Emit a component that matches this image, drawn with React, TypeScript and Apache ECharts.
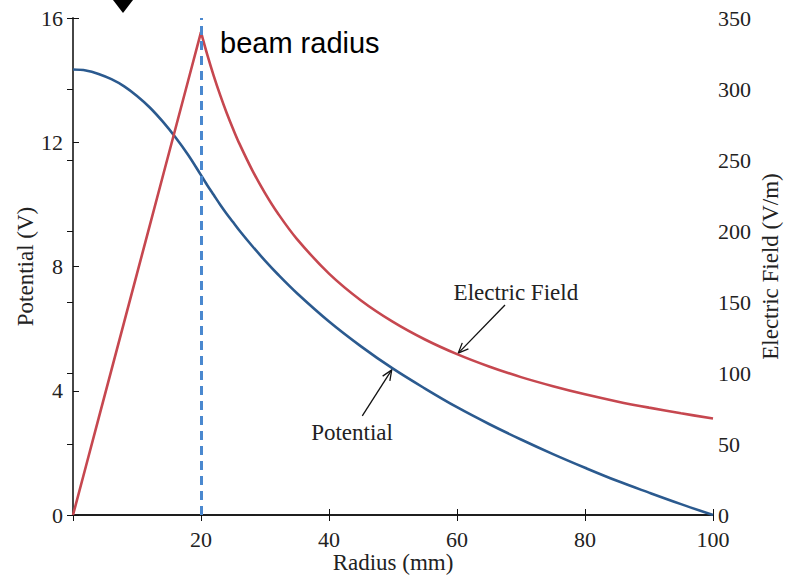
import React, { useEffect, useRef } from "react";
import * as echarts from "echarts";

const radius = [0, 2, 4, 6, 8, 10, 12, 14, 16, 18, 20, 21, 22, 23, 24, 25, 26, 28, 30, 32, 35, 40, 45, 50, 55, 60, 65, 70, 75, 80, 85, 90, 95, 100];
const potential = [14.34, 14.31, 14.2, 14.03, 13.8, 13.49, 13.12, 12.67, 12.16, 11.59, 10.94, 10.61, 10.3, 9.99, 9.7, 9.43, 9.16, 8.66, 8.19, 7.75, 7.14, 6.23, 5.43, 4.71, 4.07, 3.47, 2.93, 2.43, 1.96, 1.52, 1.1, 0.72, 0.35, 0];
const field = [0, 34, 68, 102, 136, 170, 204, 238, 272, 306, 340, 323.8, 309.1, 295.7, 283.3, 272, 261.5, 242.9, 226.7, 212.5, 194.3, 170, 151.1, 136, 123.6, 113.3, 104.6, 97.1, 90.7, 85, 80, 75.6, 71.6, 68];
const beamRadius = 20;

// annotations in data coords
const annLabels = ["Electric Field", "Potential"];
const annAxis = [1, 0];
const annText = [[69.2, 157], [43.6, 2.67]];
const annTail = [[67.5, 147.9], [45.2, 3.19]];
const annTip = [[60.2, 114], [49.8, 4.67]];

const SERIF = "'Liberation Serif', 'DejaVu Serif', serif";
const TXT = "#222";

export default function App() {
  const ref = useRef<HTMLDivElement>(null);
  useEffect(() => {
    if (!ref.current) return;
    const chart = echarts.init(ref.current, undefined, { renderer: "svg" });
    const axisLine = { show: true, lineStyle: { color: "#111", width: 1.5 } };
    const axisTick = { show: true, inside: true, length: 6, lineStyle: { color: "#111", width: 1 } };
    const label = { fontFamily: SERIF, fontSize: 22, color: TXT, lineHeight: 18 };
    const nameStyle = { fontFamily: SERIF, fontSize: 23, color: TXT, lineHeight: 22 };
    const split = radius.indexOf(beamRadius);
    const pts = (vals: number[], a: number, b: number) => radius.slice(a, b).map((r, i) => [r, vals[a + i]]);
    chart.setOption({
      animation: false,
      backgroundColor: "#fff",
      grid: { left: 73, right: 72, top: 18, bottom: 61, containLabel: false, outerBoundsMode: "none" },
      xAxis: [
        {
          type: "value", min: 0, max: 100, interval: 20, position: "bottom",
          axisLine, axisTick, splitLine: { show: false },
          axisLabel: { ...label, margin: 15, showMinLabel: false },
          name: "Radius (mm)", nameLocation: "middle", nameGap: 36, nameMoveOverlap: false, nameTextStyle: nameStyle,
        },
        {
          type: "value", min: 0, max: 100, interval: 20, position: "top",
          axisLine, axisTick, splitLine: { show: false }, axisLabel: { show: false },
        },
      ],
      yAxis: [
        {
          type: "value", min: 0, max: 16, interval: 4, position: "left",
          axisLine, axisTick, splitLine: { show: false },
          axisLabel: { ...label, margin: 10 },
          name: "Potential (V)", nameLocation: "middle", nameGap: 37, nameMoveOverlap: false, nameRotate: 90, nameTextStyle: nameStyle,
        },
        {
          type: "value", min: 0, max: 350, interval: 50, position: "right",
          axisLine: { show: true, lineStyle: { color: "#444", width: 1.5 } }, axisTick, splitLine: { show: false },
          axisLabel: { ...label, lineHeight: 16, margin: 5 },
          name: "Electric Field (V/m)", nameLocation: "middle", nameGap: 46, nameMoveOverlap: false, nameRotate: 90, nameTextStyle: nameStyle,
        },
      ],
      series: [
        {
          name: "Potential", type: "line", xAxisIndex: 0, yAxisIndex: 0, showSymbol: false,
          smooth: 0.35,
          data: pts(potential, 0, radius.length),
          lineStyle: { color: "#2b5a8f", width: 2.6 }, z: 2,
        },
        {
          name: "Electric Field", type: "line", xAxisIndex: 0, yAxisIndex: 1, showSymbol: false, smooth: false,
          data: pts(field, 0, split + 1),
          lineStyle: { color: "#c6474f", width: 2.6 }, z: 3,
        },
        {
          name: "Electric Field outer", type: "line", xAxisIndex: 0, yAxisIndex: 1, showSymbol: false,
          smooth: 0.35,
          data: pts(field, split, radius.length),
          lineStyle: { color: "#c6474f", width: 2.6 }, z: 3,
          markLine: {
            silent: true, symbol: ["none", "none"], label: { show: false },
            lineStyle: { color: "#4a88cf", width: 3, type: [9, 6] },
            data: [{ xAxis: beamRadius }],
          },
        },
      ],
    });

    const toPx = (p: number[], ax: number) => chart.convertToPixel({ xAxisIndex: 0, yAxisIndex: ax } as any, p) as number[];
    const graphics: any[] = [];
    annLabels.forEach((lab, i) => {
      const t = toPx(annText[i], annAxis[i]);
      const a = toPx(annTail[i], annAxis[i]);
      const b = toPx(annTip[i], annAxis[i]);
      graphics.push({
        type: "text", x: t[0], y: t[1],
        style: { text: lab, fontFamily: SERIF, fontSize: 23, fill: TXT, align: "center", verticalAlign: "middle" },
      });
      graphics.push({ type: "line", shape: { x1: a[0], y1: a[1], x2: b[0], y2: b[1] }, style: { stroke: "#111", lineWidth: 1.3 } });
      const ang = Math.atan2(a[1] - b[1], a[0] - b[0]);
      const L = 11, s = 0.4;
      graphics.push({
        type: "polyline",
        shape: { points: [[b[0] + L * Math.cos(ang + s), b[1] + L * Math.sin(ang + s)], [b[0], b[1]], [b[0] + L * Math.cos(ang - s), b[1] + L * Math.sin(ang - s)]] },
        style: { stroke: "#111", lineWidth: 1.3, fill: null },
      });
    });
    const br = toPx([beamRadius, 16], 0);
    graphics.push({
      type: "text", x: br[0] + 19, y: 43,
      style: { text: "beam radius", fontFamily: "'Liberation Sans', Arial, sans-serif", fontSize: 29, fill: "#000", align: "left", verticalAlign: "middle" },
    });
    graphics.push({ type: "polygon", shape: { points: [[113, 0], [133, 0], [123, 13]] }, style: { fill: "#000" } });
    chart.setOption({ graphic: graphics });

    return () => chart.dispose();
  }, []);
  return <div ref={ref} style={{ position: "fixed", left: 0, top: 0, width: 785, height: 576 }} />;
}
